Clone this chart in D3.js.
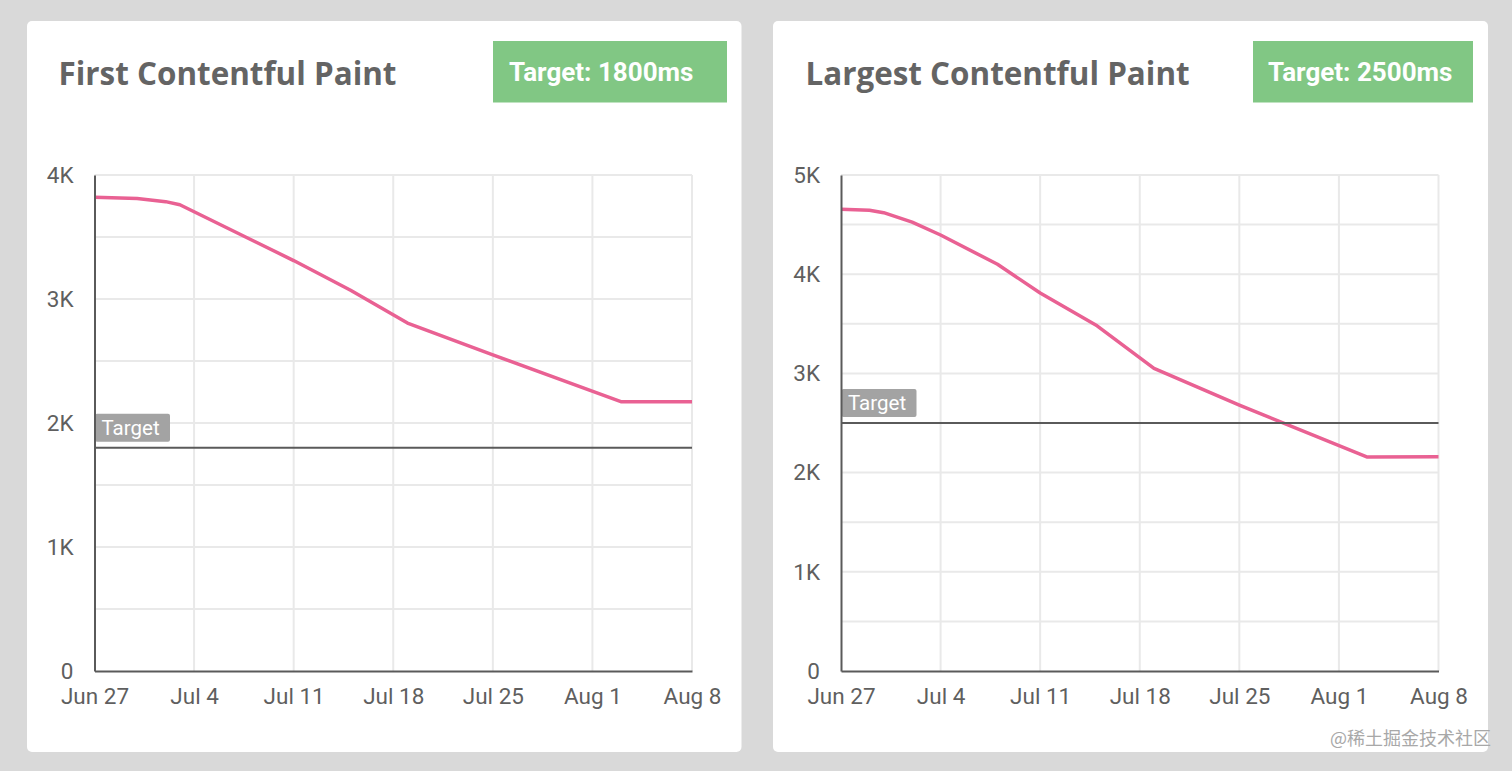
<!DOCTYPE html>
<html><head><meta charset="utf-8">
<script src="https://cdn.jsdelivr.net/npm/d3@7"></script>
<style>
html,body{margin:0;padding:0;background:#d9d9d9;overflow:hidden}
svg{display:block}
.ax text{font-family:Roboto,sans-serif;font-size:22.5px;fill:#5f5f5f}
</style></head><body>
<svg id="c" width="1512" height="771"></svg>
<script>
const tickDates = ["2020-06-27","2020-07-04","2020-07-11","2020-07-18","2020-07-25","2020-08-01","2020-08-08"];
const tickLabels = ["Jun 27","Jul 4","Jul 11","Jul 18","Jul 25","Aug 1","Aug 8"];
const fcpDates = ["2020-06-27","2020-06-30","2020-07-02","2020-07-03","2020-07-11","2020-07-15","2020-07-19","2020-07-25","2020-08-03","2020-08-08"];
const fcpValues = [3820,3810,3785,3760,3310,3070,2806,2550,2172,2172];
const lcpDates = ["2020-06-27","2020-06-29","2020-06-30","2020-07-02","2020-07-04","2020-07-08","2020-07-11","2020-07-15","2020-07-19","2020-07-25","2020-08-03","2020-08-08"];
const lcpValues = [4655,4645,4620,4525,4395,4100,3810,3480,3050,2680,2157,2160];
const fcpTicks = [0,500,1000,1500,2000,2500,3000,3500,4000];
const lcpTicks = [0,500,1000,1500,2000,2500,3000,3500,4000,4500,5000];

const svg = d3.select("#c");
const parse = d3.utcParse("%Y-%m-%d");
const fmtK = v => v === 0 ? "0" : (v/1000) + "K";

function panel(o){
  svg.append("rect").attr("x",o.card[0]).attr("y",21).attr("width",o.card[1]-o.card[0]).attr("height",731).attr("rx",5).attr("fill","#fff");
  svg.append("text").attr("x",o.titleX).attr("y",85).text(o.title)
    .attr("font-family","'Open Sans',sans-serif").attr("font-weight",700).attr("font-size",o.titleSize).attr("fill","#646464");
  svg.append("rect").attr("x",o.badge[0]).attr("y",41).attr("width",o.badge[1]-o.badge[0]).attr("height",61.5).attr("fill","#81c784");
  svg.append("text").attr("x",o.badge[0]+o.badgePad).attr("y",80.5).text(o.badgeText)
    .attr("font-family","Roboto,sans-serif").attr("font-weight",700).attr("font-size",26).attr("fill","#fff");

  const x = d3.scaleUtc().domain([parse(tickDates[0]),parse(tickDates[tickDates.length-1])]).range(o.xr);
  const y = d3.scaleLinear().domain([0,o.max]).range([671,175]);
  const g = svg.append("g");

  g.append("g").selectAll("line").data(o.ticks.filter(v=>v>0)).join("line")
    .attr("x1",o.xr[0]).attr("x2",o.xr[1]).attr("y1",d=>y(d)).attr("y2",d=>y(d))
    .attr("stroke","#e9e9e9").attr("stroke-width",2);
  g.append("g").selectAll("line").data(tickDates.slice(1)).join("line")
    .attr("x1",d=>x(parse(d))).attr("x2",d=>x(parse(d))).attr("y1",175).attr("y2",671)
    .attr("stroke","#e9e9e9").attr("stroke-width",2);

  const line = d3.line().x(d=>x(d[0])).y(d=>y(d[1]));
  g.append("path").datum(o.dates.map((d,i)=>[parse(d),o.values[i]])).attr("d",line)
    .attr("fill","none").attr("stroke","#e96193").attr("stroke-width",3.5).attr("stroke-linejoin","round");

  const ty = y(o.target);
  g.append("line").attr("x1",o.xr[0]).attr("x2",o.xr[1]).attr("y1",ty).attr("y2",ty).attr("stroke","#5a5a5a").attr("stroke-width",2);
  g.append("rect").attr("x",o.xr[0]+.5).attr("y",ty-34).attr("width",75).attr("height",28).attr("rx",2).attr("fill","#a3a3a3");
  g.append("text").attr("x",o.xr[0]+7).attr("y",ty-13).text("Target")
    .attr("font-family","Roboto,sans-serif").attr("font-size",20.5).attr("fill","#fff");

  const ax = d3.axisBottom(x).tickValues(tickDates.map(parse))
    .tickFormat((d,i)=>tickLabels[i]).tickSize(0).tickPadding(17);
  const axG = g.append("g").attr("class","ax").attr("transform","translate(0,671)").call(ax);
  axG.select(".domain").attr("stroke","#5a5a5a").attr("stroke-width",2);
  const ay = d3.axisLeft(y).tickValues(o.ticks.filter(v=>v%1000===0)).tickFormat(fmtK).tickSize(0).tickPadding(21);
  const ayG = g.append("g").attr("class","ax").attr("transform",`translate(${o.xr[0]},0)`).call(ay);
  ayG.select(".domain").attr("stroke","#5a5a5a").attr("stroke-width",2);
}

panel({card:[27,741.5],title:"First Contentful Paint",titleX:58.5,titleSize:31.4,badge:[493,727],badgePad:16,badgeText:"Target: 1800ms",
  xr:[94.5,692],max:4000,ticks:fcpTicks,dates:fcpDates,values:fcpValues,target:1800});
panel({card:[773,1488],title:"Largest Contentful Paint",titleX:805.5,titleSize:31.4,badge:[1253,1473],badgePad:15,badgeText:"Target: 2500ms",
  xr:[841,1438.5],max:5000,ticks:lcpTicks,dates:lcpDates,values:lcpValues,target:2500});

svg.append("text").attr("x",1330).attr("y",745).text("@稀土掘金技术社区")
  .attr("font-family","'Noto Sans CJK SC',sans-serif").attr("font-size",18).attr("fill","#a8a8a8");
</script>
</body></html>
